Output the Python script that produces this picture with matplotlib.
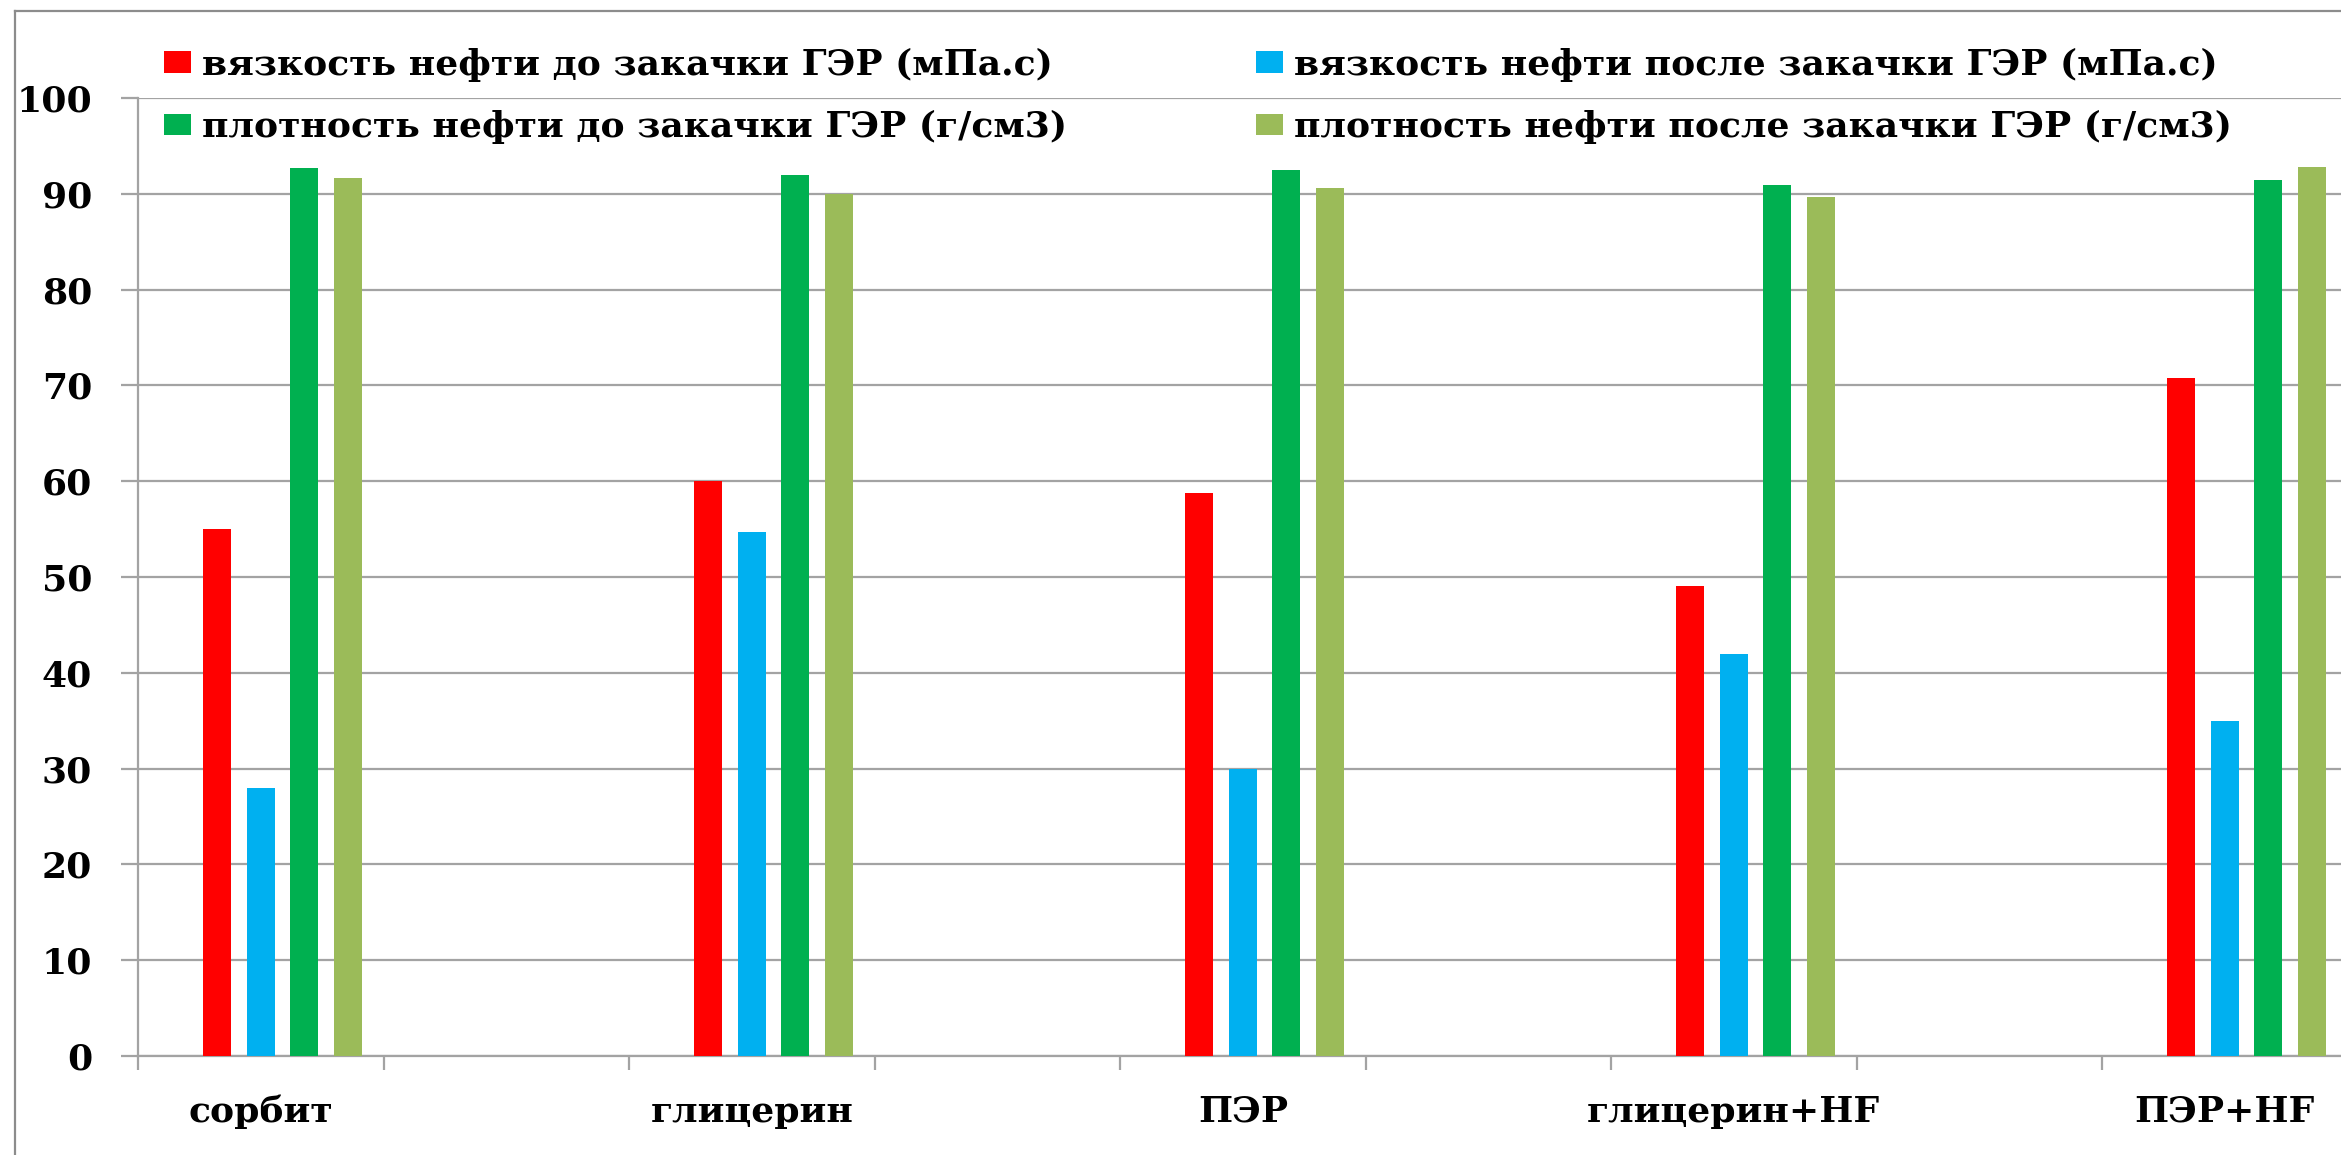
import matplotlib
matplotlib.use("Agg")
import matplotlib.pyplot as plt
from matplotlib.patches import Patch
from matplotlib.lines import Line2D
import numpy as np

# Data
categories = ['сорбит', 'глицерин', 'ПЭР', 'глицерин+HF', 'ПЭР+HF']
visc_before = [55.0, 60.0, 58.8, 49.1, 70.8]
visc_after = [28.0, 54.7, 30.0, 42.0, 35.0]
dens_before = [92.7, 92.0, 92.5, 90.9, 91.4]
dens_after = [91.6, 90.0, 90.6, 89.7, 92.8]

series_labels = [
    'вязкость нефти до закачки ГЭР (мПа.с)',
    'вязкость нефти после закачки ГЭР (мПа.с)',
    'плотность нефти до закачки ГЭР (г/см3)',
    'плотность нефти после закачки ГЭР (г/см3)',
]
colors = ['#FF0000', '#00B0F0', '#00B050', '#9BBB59']
y_ticks = list(range(0, 101, 10))

W, H = 2341, 1155
DPI = 100
FS = 26
GRID = '#a3a3a3'
FONT = ['DejaVu Serif']

plt.rcParams['font.family'] = FONT
plt.rcParams['font.weight'] = 'bold'

fig = plt.figure(figsize=(W / DPI, H / DPI), dpi=DPI)
fig.patch.set_facecolor('white')

# plot area: 10 category slots, data in every other slot; the right part runs past the edge
x0, y0, y1 = 138, 1056, 98
slot_px = 245.5
ax = fig.add_axes([x0 / W, (H - y0) / H, 10 * slot_px / W, (y0 - y1) / H])

centers = np.arange(len(categories)) * 2 + 0.5
step = 0.178
bw = 0.114
offsets = [-step, 0.0, step, 2 * step]
all_series = [visc_before, visc_after, dens_before, dens_after]
for vals, off, col in zip(all_series, offsets, colors):
    ax.bar(centers + off, vals, width=bw, color=col, zorder=3, linewidth=0)

ax.set_xlim(0, 10)
ax.set_ylim(0, 100)
ax.set_yticks(y_ticks)
ax.set_yticklabels([str(t) for t in y_ticks], fontsize=FS, fontweight='bold')
ax.set_xticks(np.arange(0, 11))
ax.set_xticklabels([])
ax.set_xticks(centers, minor=True)
ax.set_xticklabels(categories, minor=True, fontsize=FS, fontweight='bold')

ax.yaxis.grid(True, color=GRID, linewidth=1.6, zorder=0)
ax.set_axisbelow(True)
for s in ['top', 'right']:
    ax.spines[s].set_visible(False)
for s in ['left', 'bottom']:
    ax.spines[s].set_color(GRID)
    ax.spines[s].set_linewidth(1.6)
ax.tick_params(axis='y', which='major', length=12, width=1.6, color=GRID, pad=21)
ax.tick_params(axis='x', which='major', length=10, width=1.6, color=GRID)
ax.tick_params(axis='x', which='minor', length=0, pad=28)

# outer chart frame (top and left edges)
fig.add_artist(Line2D([15 / W, 1], [1 - 11 / H, 1 - 11 / H], color='#8c8c8c', lw=1.6,
                      transform=fig.transFigure))
fig.add_artist(Line2D([15 / W, 15 / W], [0, 1 - 11 / H], color='#8c8c8c', lw=1.6,
                      transform=fig.transFigure))

# legend in two columns
handles = [Patch(facecolor=c, edgecolor='none') for c in colors]
leg_kw = dict(frameon=False, handlelength=0.75, handleheight=0.55,
              handletextpad=0.3, labelspacing=0.78, borderaxespad=0, borderpad=0,
              prop={'family': FONT, 'weight': 'bold', 'size': FS})
leg1 = fig.legend([handles[0], handles[2]], [series_labels[0], series_labels[2]],
                  loc='upper left', bbox_to_anchor=(164 / W, 1 - 48 / H), **leg_kw)
leg2 = fig.legend([handles[1], handles[3]], [series_labels[1], series_labels[3]],
                  loc='upper left', bbox_to_anchor=(1256 / W, 1 - 48 / H), **leg_kw)

fig.savefig('out.png', dpi=DPI, facecolor='white')
